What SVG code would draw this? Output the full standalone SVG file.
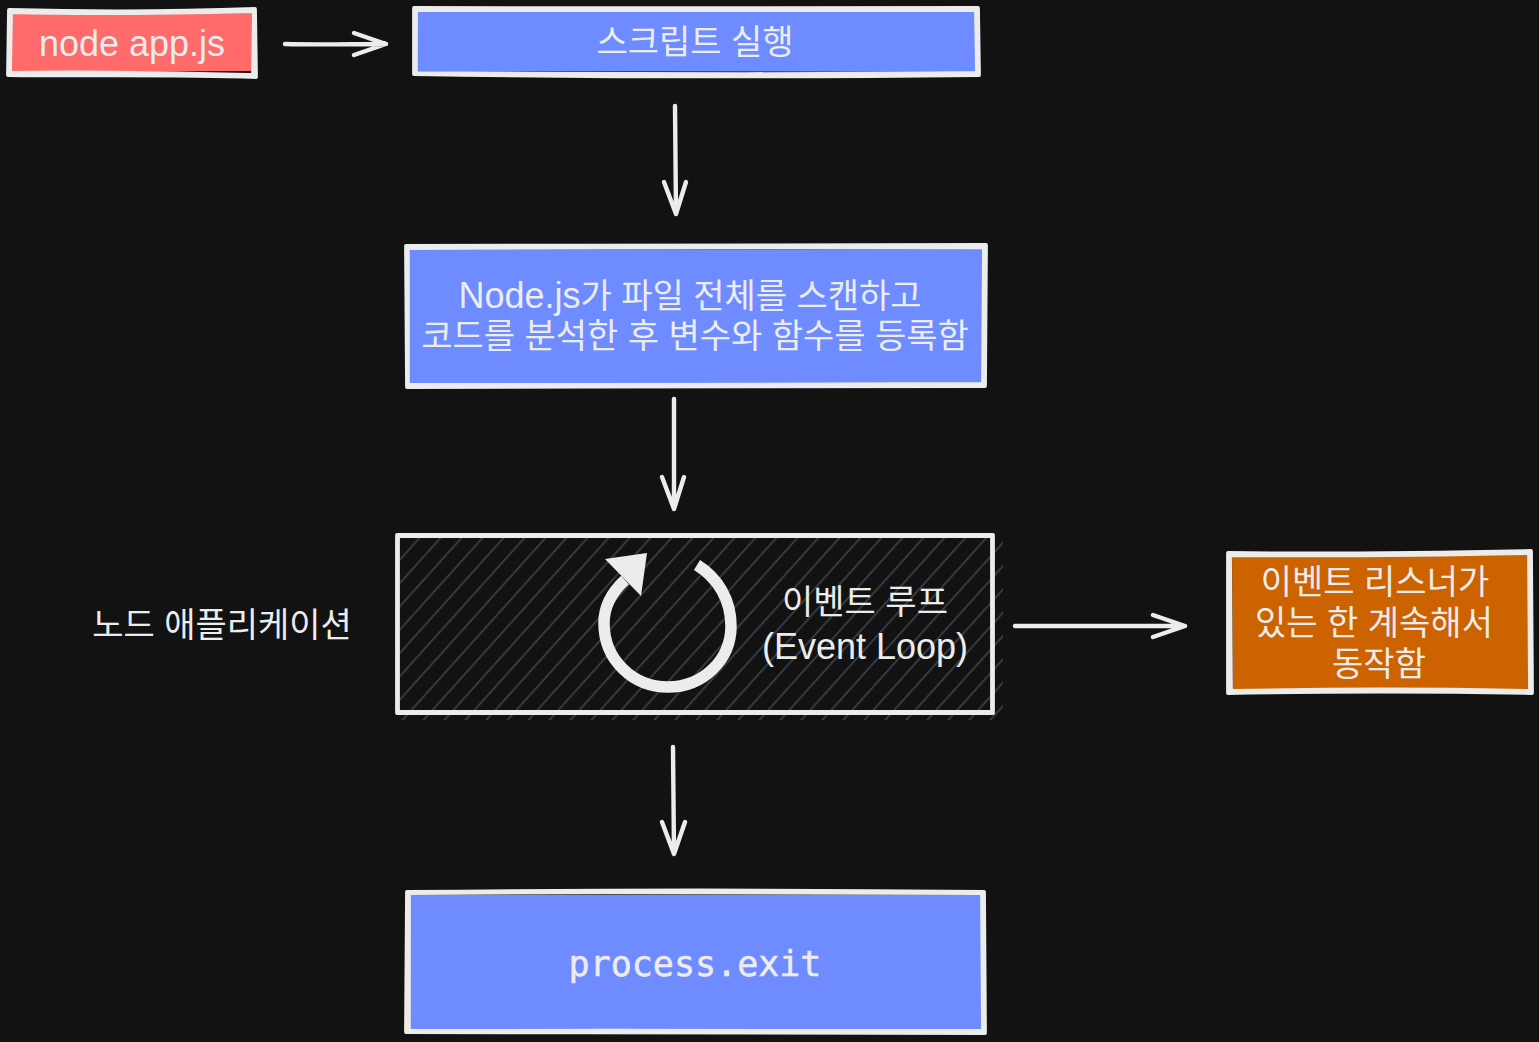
<svg xmlns="http://www.w3.org/2000/svg" width="1539" height="1042" viewBox="0 0 1539 1042">
<style>
text{font-family:"Liberation Sans","Noto Sans CJK KR",sans-serif;fill:#ececec;text-anchor:middle;font-size:34px}
tspan.l{font-size:36px}
.e{fill:none;stroke:#ececec;stroke-width:3.8;stroke-linecap:round;stroke-linejoin:round}
.a{fill:none;stroke:#ececec;stroke-width:4.4;stroke-linecap:round;stroke-linejoin:round}
.mono{font-family:"DejaVu Sans Mono","Liberation Mono",monospace;font-size:35px;stroke:#ececec;stroke-width:.5}
</style>
<defs>
<pattern id="h" width="15.6" height="15.6" patternUnits="userSpaceOnUse" patternTransform="translate(419 537) rotate(-48)">
<line x1="0" y1="1" x2="15.6" y2="1" stroke="#343a40" stroke-width="2"/>
</pattern>
</defs>
<rect width="1539" height="1042" fill="#121212"/>
<g id="node-app">
<path d="M12 14L253 13L254 71L11 72Z" fill="#ff6b6b"/>
<path class="e" d="M9 10C90 12 170 12 255 9L256 77C170 74 90 76 8 75Z"/>
<path class="e" d="M11 12C90 14 170 13 253 11M11 13L10 73C90 71 170 73 252 75M254 10L253 76"/>
<text x="132" y="56"><tspan class="l">node app.js</tspan></text>
</g>
<g id="script-run">
<path d="M417 12L976 12L977 72L418 71Z" fill="#6e8cff"/>
<path class="e" d="M414 8C600 9 800 7 978 8L979 75C800 77 600 77 414 74Z"/>
<path class="e" d="M416 10C600 11 800 9 976 10L977 73C800 75 600 74 416 73Z"/>
<text x="695" y="54">스크립트 실행</text>
</g>
<g id="node-scan">
<path d="M410 250L983 249L984 384L410 385Z" fill="#6e8cff"/>
<path class="e" d="M406 246C600 245 800 246 986 245L985 386C800 387 600 386 407 387Z"/>
<path class="e" d="M408 248C600 247 800 248 984 247L983 384C800 385 600 385 408 385Z"/>
<text x="690" y="308"><tspan class="l">Node.js</tspan>가 파일 전체를 스캔하고</text>
<text x="695" y="348">코드를 분석한 후 변수와 함수를 등록함</text>
</g>
<g id="event-loop">
<rect x="398" y="537" width="605" height="183" fill="url(#h)"/>
<path class="e" d="M397 535C600 534 800 536 993 535L993 713C800 714 600 714 397 713Z"/>
<path class="e" d="M398 536C600 536 800 537 992 536L992 712C800 713 600 712 398 712Z"/>
<path d="M697 565C718 578 731 600 731 626C731 660 703 687 668 687C633 687 604 660 604 623C604 607 612 592 625 580" fill="none" stroke="#ececec" stroke-width="11.5"/>
<path d="M605 559L647 553L641 596Z" fill="#ececec"/>
<text x="865" y="614">이벤트 루프</text>
<text x="865" y="659"><tspan class="l">(Event Loop)</tspan></text>
</g>
<g id="node-app-label">
<text x="222" y="637">노드 애플리케이션</text>
</g>
<g id="keep-alive">
<path d="M1232 556L1529 555L1529 689L1233 690Z" fill="#cc6200"/>
<path class="e" d="M1228 553C1330 554 1430 553 1531 551L1532 693C1430 691 1330 691 1228 693Z"/>
<path class="e" d="M1230 555C1330 556 1430 555 1529 553L1530 691C1430 689 1330 689 1231 691Z"/>
<text x="1375" y="594">이벤트 리스너가</text>
<text x="1374" y="635">있는 한 계속해서</text>
<text x="1379" y="676">동작함</text>
</g>
<g id="process-exit">
<path d="M410 895L982 895L983 1030L411 1030Z" fill="#6e8cff"/>
<path class="e" d="M407 892C600 890 800 890 984 892L985 1033C800 1032 600 1033 406 1032Z"/>
<path class="e" d="M409 893C600 892 800 892 982 893L983 1031C800 1030 600 1031 409 1031Z"/>
<text class="mono" x="695" y="976">process.exit</text>
</g>
<g id="connectors">
<path class="a" d="M285 44C320 45 350 44 386 44M354 33L386 44L354 55"/>
<path class="a" d="M675 106L676 214M664 182L676 214L686 182"/>
<path class="a" d="M674 399L674 509M662 477L674 509L684 477"/>
<path class="a" d="M1015 626L1185 626M1153 615L1185 626L1153 637"/>
<path class="a" d="M673 747L674 854M662 822L674 854L685 822"/>
</g>
</svg>
